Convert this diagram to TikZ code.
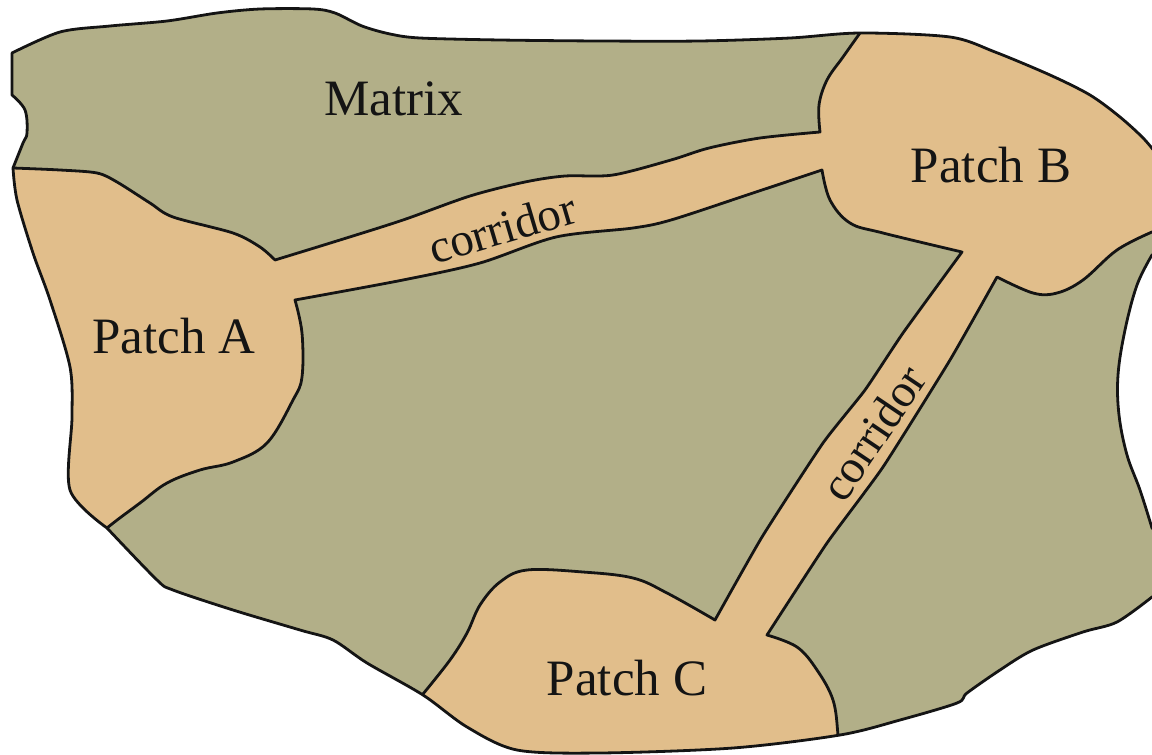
\documentclass[tikz,border=0pt]{standalone}
\usepackage{fontspec}
\setmainfont{Liberation Serif}
\definecolor{matrixgreen}{HTML}{B2AF88}
\definecolor{patchtan}{HTML}{E1BE8B}
\definecolor{inkline}{HTML}{141414}
\tikzset{
  border/.style={draw=inkline, line width=2.8pt, line join=round, line cap=round},
  biglabel/.style={font=\fontsize{51}{60}\selectfont, text=inkline, inner sep=0pt},
  corrlabel/.style={font=\fontsize{47}{56}\selectfont, text=inkline, inner sep=0pt}
}
\begin{document}
\begin{tikzpicture}[x=1pt,y=-1pt]
\useasboundingbox (0,0) rectangle (1152,755);
\clip (0,0) rectangle (1152,755);
\def\outerpath{
 plot[smooth,tension=0.5] coordinates {(12,53) (60,32) (110,26) (167,21) (217,13) (260,9) (313,9) (335,13) (362,26) (390,34) (420,38) (500,40) (600,41) (700,41) (790,38) (860,33) (950,37) (995,52) (1050,75) (1090,95) (1120,117) (1145,140) (1165,165)}
 -- (1165,250)
 -- plot[smooth,tension=0.6] coordinates {(1152,255) (1137,285) (1125,330) (1118,375) (1119,415) (1127,455) (1140,490) (1152,528)}
 -- (1165,540) -- (1165,592)
 -- plot[smooth,tension=0.5] coordinates {(1152,597) (1117,622) (1083,632) (1033,650) (1000,670) (967,693) (957,703) (900,720) (840,735) (733,748) (600,753) (517,750) (467,727) (423,695) (367,663) (333,640) (300,630) (233,610) (173,590) (157,580) (107,528)}
 -- plot[smooth,tension=0.5] coordinates {(107,528) (70,490) (72,417) (70,367) (50,300) (33,253) (17,200) (13,168)}
 -- plot[smooth,tension=0.6] coordinates {(13,168) (23,143) (27,133) (25,110) (12,95)}
 -- cycle}
\def\tanpath{
 (-10,168) -- plot[smooth,tension=0.5] coordinates {(13,168) (60,170) (97,173) (117,182) (150,203) (173,217) (233,233) (260,247) (275,260)}
 -- plot[smooth,tension=0.5] coordinates {(275,260) (340,240) (403,220) (470,196) (525,182) (565,176) (613,175) (671,160) (709,148) (760,138) (820,132)}
 -- plot[smooth,tension=0.6] coordinates {(820,132) (819,105) (827,80) (843,57) (860,33)}
 -- (865,-10) -- (1170,-10) -- (1170,232)
 -- plot[smooth,tension=0.6] coordinates {(1152,232) (1117,250) (1083,280) (1057,293) (1033,293) (997,277)}
 -- plot[smooth,tension=0.3] coordinates {(997,277) (950,360) (883,467) (827,543) (767,635)}
 -- plot[smooth,tension=0.6] coordinates {(767,635) (797,647) (817,670) (833,700) (838,735) (840,770)}
 -- (400,770) -- (405,715)
 -- plot[smooth,tension=0.6] coordinates {(423,694) (450,660) (467,633) (480,605) (500,582) (527,570) (583,572) (633,578) (667,593) (715,620)}
 -- plot[smooth,tension=0.3] coordinates {(715,620) (762,537) (823,443) (865,390) (903,333) (962,252)}
 -- plot[smooth,tension=0.6] coordinates {(962,252) (883,233) (850,223) (830,200) (822,170)}
 -- plot[smooth,tension=0.5] coordinates {(822,170) (747,195) (671,220) (633,228) (556,237) (480,263) (403,280) (295,300)}
 -- plot[smooth,tension=0.6] coordinates {(295,300) (302,333) (302,377) (293,400) (267,443) (233,462) (200,470) (167,483) (140,503) (107,528) (90,545)}
 -- (-10,545) -- cycle}
\fill[matrixgreen] \outerpath;
\begin{scope}
 \clip \outerpath;
 \fill[patchtan] \tanpath;
 \draw[border] \tanpath;
\end{scope}
\draw[border] \outerpath;
\node[biglabel, anchor=base] (matrix) at (394,115) {Matrix};
\node[biglabel, anchor=base] (patchA) at (174,353) {Patch A};
\node[biglabel, anchor=base] (patchB) at (991,182) {Patch B};
\node[biglabel, anchor=base] (patchC) at (627,695) {Patch C};
\node[corrlabel, rotate=16.5] (corrAB) at (502,228) {corridor};
\node[corrlabel, rotate=56] (corrBC) at (873,433) {corridor};
\end{tikzpicture}
\end{document}
